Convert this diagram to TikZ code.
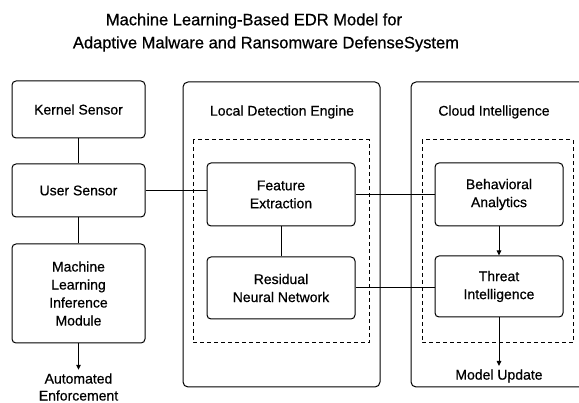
\documentclass[tikz,border=0pt]{standalone}
\usepackage{fontspec}
\setmainfont{Liberation Sans}[FakeBold=0.6]
\usetikzlibrary{arrows.meta}
\begin{document}
\begin{tikzpicture}[x=1pt,y=-1pt,
  box/.style={draw,line width=1pt,rounded corners=4pt,align=center,font=\fontsize{14}{18}\selectfont},
  panel/.style={draw,line width=1pt,rounded corners=5pt},
  dashbox/.style={draw,line width=1pt,dashed,dash pattern=on 4pt off 3pt},
  lbl/.style={align=center,font=\fontsize{14}{17}\selectfont},
  conn/.style={line width=1pt},
  arr/.style={line width=1pt,-{Triangle[length=5pt,width=4.5pt]}}]
\useasboundingbox (0,0) rectangle (579,403);
\clip (0,0) rectangle (579,403);
% title
\node[font=\fontsize{16.5}{19}\selectfont] (t1) at (254,21) {Machine Learning-Based EDR Model for};
\node[font=\fontsize{16.5}{19}\selectfont] (t2) at (266,44) {Adaptive Malware and Ransomware DefenseSystem};
% panels
\draw[panel] (183,82) rectangle (380,387);
\draw[panel] (411,82) rectangle (600,387);
\node[lbl] (ldt) at (282,112) {Local Detection Engine};
\node[lbl] (cit) at (494,112) {Cloud Intelligence};
\draw[dashbox] (193,140) rectangle (369,343);
\draw[dashbox] (422,140) rectangle (573,343);
% left column
\node[box,minimum width=133pt,minimum height=57pt] (ks) at (78.5,109.5) {Kernel Sensor};
\node[box,minimum width=133pt,minimum height=53pt] (us) at (78.5,190.5) {User Sensor};
\node[box,minimum width=133pt,minimum height=99pt] (ml) at (78.5,293.5) {Machine\\Learning\\Inference\\Module};
\node[lbl] (ae) at (78.5,387) {Automated\\Enforcement};
% middle
\node[box,minimum width=148pt,minimum height=63pt] (fe) at (281,194.5) {Feature\\Extraction};
\node[box,minimum width=148pt,minimum height=62pt] (rn) at (281,288) {Residual\\Neural Network};
% right
\node[box,minimum width=128pt,minimum height=63pt] (ba) at (499,194.5) {Behavioral\\Analytics};
\node[box,minimum width=128pt,minimum height=61pt] (ti) at (499,286.5) {Threat\\Intelligence};
\node[lbl] (mu) at (499,376) {Model Update};
% connectors
\draw[conn] (ks) -- (us);
\draw[conn] (us) -- (ml);
\draw[arr] (ml) -- (ae);
\draw[conn] (us.east) -- (fe.west |- us.east);
\draw[conn] (fe) -- (rn);
\draw[conn] (fe.east) -- (ba.west |- fe.east);
\draw[conn] (rn.east) -- (ti.west |- rn.east);
\draw[arr] (ba) -- (ti);
\draw[arr] (ti) -- (mu);
\end{tikzpicture}
\end{document}
